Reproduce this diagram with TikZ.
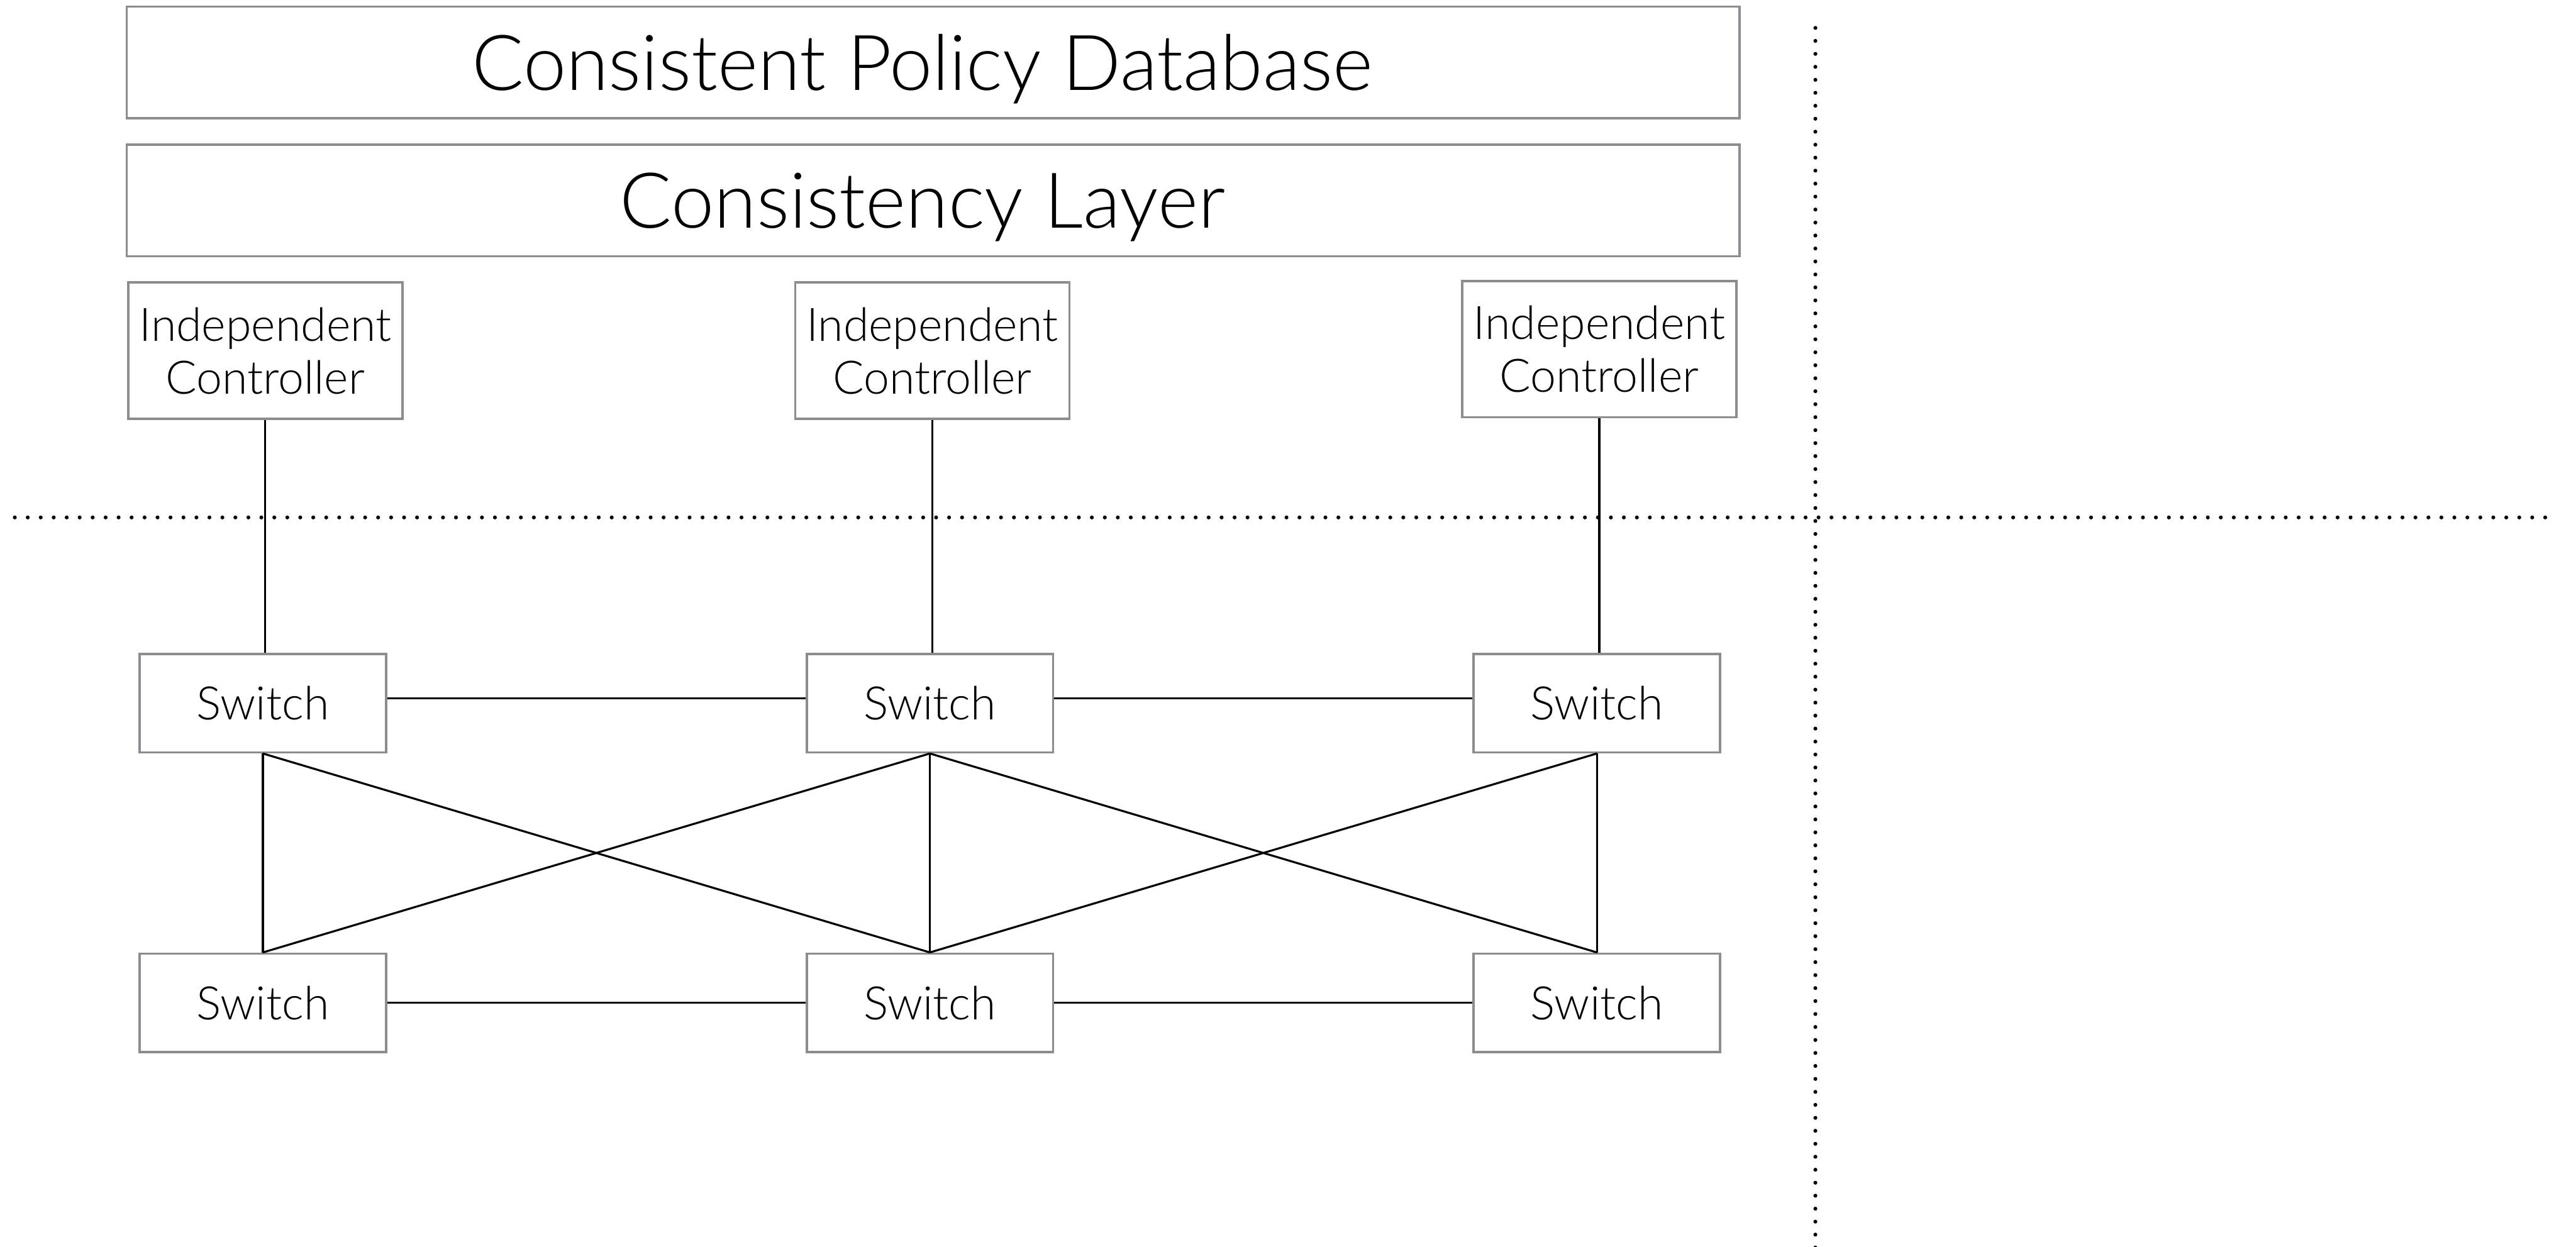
\documentclass[tikz,border=0pt]{standalone}
\usepackage{fontspec}
\setmainfont{Lato Light}
\definecolor{boxgray}{HTML}{8A8D91}
\tikzset{
  layerbox/.style={draw=boxgray, line width=0.8pt, minimum width=19.64cm,
    minimum height=1.36cm, inner sep=0pt, text depth=0pt,
    font=\fontsize{26.7}{31}\selectfont},
  ctrlbox/.style={draw=boxgray, line width=0.8pt, minimum width=3.34cm,
    minimum height=1.66cm, inner sep=0pt, align=center,
    font=\fontsize{16}{18.3}\selectfont},
  switchbox/.style={draw=boxgray, line width=0.8pt, minimum width=3.0cm,
    minimum height=1.2cm, inner sep=0pt, font=\fontsize{16}{18.3}\selectfont},
  link/.style={line width=0.7pt, black},
  divider/.style={line width=1.35pt, line cap=round, dash pattern=on 0pt off 0.158cm}
}
% layer captions sit a little left of the box centre
\newcommand{\layertext}[1]{\hspace*{-0.26cm}#1}
\begin{document}
\begin{tikzpicture}[x=0.02cm, y=-0.02cm]
\useasboundingbox (0,0) rectangle (1568,759);

% dividing lines
\coordinate (hl) at (9,315);
\coordinate (hr) at (1556,315);
\coordinate (vt) at (1105,17);
\coordinate (vb) at (1105,762);
\draw[divider] (hl) -- (hr);
\draw[divider] (vt) -- (vb);

% shared layers
\node[layerbox] (db) at (568,38) {\layertext{Consistent Policy Database}};
\node[layerbox] (layer) at (568,122) {\layertext{Consistency Layer}};

% controllers
\node[ctrlbox] (c1) at (161.5,213.5) {Independent\\Controller};
\node[ctrlbox] (c2) at (567.5,213.5) {Independent\\Controller};
\node[ctrlbox] (c3) at (973.5,212.5) {Independent\\Controller};

% switches
\node[switchbox] (t1) at (160,428) {Switch};
\node[switchbox] (t2) at (566,428) {Switch};
\node[switchbox] (t3) at (972,428) {Switch};
\node[switchbox] (b1) at (160,610.5) {Switch};
\node[switchbox] (b2) at (566,610.5) {Switch};
\node[switchbox] (b3) at (972,610.5) {Switch};

% controller to switch
\draw[link] (c1.south) -- (c1.south |- t1.north);
\draw[link] (c2.south) -- (c2.south |- t2.north);
\draw[link] (c3.south) -- (c3.south |- t3.north);

% switch rows
\draw[link] ([yshift=1.7pt]t1.east) -- ([yshift=1.7pt]t2.west);
\draw[link] ([yshift=1.7pt]t2.east) -- ([yshift=1.7pt]t3.west);
\draw[link] (b1.east) -- (b2.west);
\draw[link] (b2.east) -- (b3.west);

% vertical and crossing links
\draw[link] (t1.south) -- (b1.north);
\draw[link] (t2.south) -- (b2.north);
\draw[link] (t3.south) -- (b3.north);
\draw[link] (t1.south) -- (b2.north);
\draw[link] (b1.north) -- (t2.south);
\draw[link] (t2.south) -- (b3.north);
\draw[link] (b2.north) -- (t3.south);
\end{tikzpicture}
\end{document}
